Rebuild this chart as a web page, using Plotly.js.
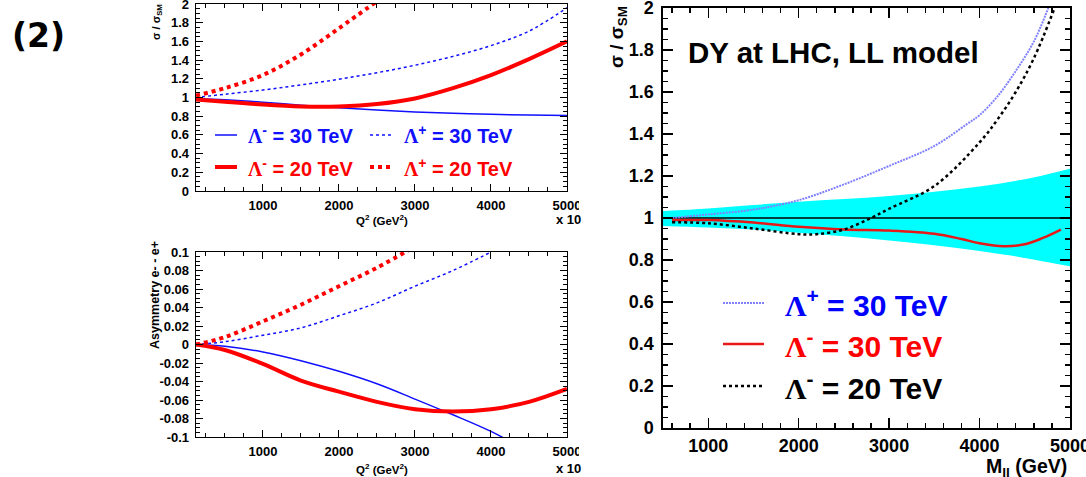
<!DOCTYPE html>
<html>
<head>
<meta charset="utf-8">
<script src="https://cdn.plot.ly/plotly-3.0.1.min.js"></script>
<style>
html,body{margin:0;padding:0;background:#fff;}
#chart{width:1086px;height:477px;}
</style>
</head>
<body>
<div id="chart"></div>
<script>
// ---------------- DATA ----------------
// Panel A (top-left): sigma / sigma_SM vs Q^2 (GeV^2)
const q2A           = [120, 500, 1000, 1500, 2000, 2500, 3000, 3500, 4000, 4500, 5000];
const ratioM30      = [0.99, 0.975, 0.95, 0.918, 0.89, 0.866, 0.846, 0.831, 0.82, 0.812, 0.807];
const ratioM20      = [0.98, 0.955, 0.925, 0.905, 0.905, 0.93, 0.99, 1.10, 1.24, 1.41, 1.60];
const ratioP30      = [1.0, 1.035, 1.08, 1.135, 1.195, 1.265, 1.345, 1.44, 1.555, 1.71, 1.96];
const q2P20         = [120, 500, 1000, 1500, 2000, 2500];
const ratioP20      = [1.02, 1.10, 1.24, 1.46, 1.74, 2.03];
const ratioTickVals = [0, 0.2, 0.4, 0.6, 0.8, 1, 1.2, 1.4, 1.6, 1.8, 2];
const ratioTickText = ["0", "0.2", "0.4", "0.6", "0.8", "1", "1.2", "1.4", "1.6", "1.8", "2"];

// Panel B (bottom-left): asymmetry e- - e+ vs Q^2
const q2AsymM30     = [120, 500, 1000, 1500, 2000, 2500, 3000, 3500, 4000, 4500];
const asymM30       = [0, -0.002, -0.008, -0.0175, -0.029, -0.0425, -0.059, -0.076, -0.094, -0.116];
const q2AsymM20     = [120, 500, 1000, 1500, 2000, 2500, 3000, 3500, 4000, 4500, 5000];
const asymM20       = [0, -0.006, -0.021, -0.039, -0.051, -0.062, -0.07, -0.0725, -0.07, -0.062, -0.048];
const q2AsymP30     = [120, 500, 1000, 1500, 2000, 2500, 3000, 3500, 4000];
const asymP30       = [0, 0.003, 0.01, 0.018, 0.031, 0.045, 0.063, 0.08, 0.1];
const q2AsymP20     = [120, 500, 1000, 1500, 2000, 2500, 3000];
const asymP20       = [0, 0.008, 0.025, 0.043, 0.063, 0.083, 0.106];
const asymTickVals  = [-0.1, -0.08, -0.06, -0.04, -0.02, 0, 0.02, 0.04, 0.06, 0.08, 0.1];
const asymTickText  = ["-0.1", "-0.08", "-0.06", "-0.04", "-0.02", "0", "0.02", "0.04", "0.06", "0.08", "0.1"];

// Panel C (right): DY at LHC, LL model, sigma / sigma_SM vs M_ll (GeV)
const mllBand       = [500, 1000, 1500, 2000, 2500, 3000, 3500, 4000, 4500, 5000];
const bandUpper     = [1.033, 1.045, 1.062, 1.077, 1.09, 1.105, 1.125, 1.15, 1.185, 1.235];
const bandLower     = [0.962, 0.955, 0.945, 0.93, 0.913, 0.893, 0.87, 0.843, 0.81, 0.77];
const smLineX       = [500, 5000];
const smLineY       = [1, 1];
const mllP30        = [600, 1000, 1500, 2000, 2500, 3000, 3500, 3860, 4000, 4200, 4400, 4600, 4760];
const dyP30         = [1.0, 1.017, 1.04, 1.085, 1.16, 1.248, 1.343, 1.447, 1.49, 1.58, 1.70, 1.84, 2.0];
const mllM30        = [600, 1000, 1500, 2000, 2500, 3000, 3500, 3800, 4000, 4270, 4500, 4700, 4900];
const dyM30         = [0.99, 0.99, 0.978, 0.958, 0.945, 0.94, 0.925, 0.9, 0.88, 0.866, 0.875, 0.905, 0.945];
const mllM20        = [600, 1000, 1500, 2000, 2200, 2500, 2800, 3000, 3500, 4000, 4200, 4400, 4600, 4830];
const dyM20         = [0.98, 0.975, 0.95, 0.923, 0.923, 0.945, 1.0, 1.044, 1.152, 1.36, 1.47, 1.60, 1.76, 2.0];

// ---------------- LAYOUT HELPERS ----------------
const W = 1086, H = 477;
const px = x => x / W;
const py = y => 1 - y / H;
const FONT = 'Liberation Sans, Arial, Helvetica, sans-serif';
const SERIF = 'Liberation Serif';
const BLUE = '#1010ff', RED = '#ff0000';

function axisStyle(extra, small) {
  return Object.assign({
    showline: true, linecolor: '#000', linewidth: small ? 1.3 : 1.6,
    mirror: 'allticks', ticks: 'inside', ticklen: small ? 7 : 10, tickwidth: small ? 1 : 1.4,
    tickcolor: '#000', showgrid: false, zeroline: false, automargin: false, fixedrange: true,
    ticklabeloverflow: 'allow',
    tickfont: {family: FONT, size: small ? 13 : 18, color: '#000', weight: 'bold'}
  }, extra);
}

const traces = [
  // Panel A
  {x: q2A, y: ratioM30, xaxis: 'x', yaxis: 'y', mode: 'lines', line: {color: BLUE, width: 1.5, shape: 'spline'}},
  {x: q2A, y: ratioP30, xaxis: 'x', yaxis: 'y', mode: 'lines', line: {color: BLUE, width: 1.5, dash: 'dot', shape: 'spline'}},
  {x: q2A, y: ratioM20, xaxis: 'x', yaxis: 'y', mode: 'lines', line: {color: RED, width: 4, shape: 'spline'}},
  {x: q2P20, y: ratioP20, xaxis: 'x', yaxis: 'y', mode: 'lines', line: {color: RED, width: 4, dash: 'dot', shape: 'spline'}},
  // Panel B
  {x: q2AsymM30, y: asymM30, xaxis: 'x2', yaxis: 'y2', mode: 'lines', line: {color: BLUE, width: 1.5, shape: 'spline'}},
  {x: q2AsymP30, y: asymP30, xaxis: 'x2', yaxis: 'y2', mode: 'lines', line: {color: BLUE, width: 1.5, dash: 'dot', shape: 'spline'}},
  {x: q2AsymM20, y: asymM20, xaxis: 'x2', yaxis: 'y2', mode: 'lines', line: {color: RED, width: 4, shape: 'spline'}},
  {x: q2AsymP20, y: asymP20, xaxis: 'x2', yaxis: 'y2', mode: 'lines', line: {color: RED, width: 4, dash: 'dot', shape: 'spline'}},
  // Panel C
  {x: mllBand, y: bandLower, xaxis: 'x3', yaxis: 'y3', mode: 'lines', line: {width: 0, color: '#00ffff', shape: 'spline'}},
  {x: mllBand, y: bandUpper, xaxis: 'x3', yaxis: 'y3', mode: 'lines', fill: 'tonexty', fillcolor: '#00ffff', line: {width: 0, color: '#00ffff', shape: 'spline'}},
  {x: smLineX, y: smLineY, xaxis: 'x3', yaxis: 'y3', mode: 'lines', line: {color: '#000', width: 1.3}},
  {x: mllP30, y: dyP30, xaxis: 'x3', yaxis: 'y3', mode: 'lines', line: {color: '#8080ff', width: 2, dash: '2px,1px', shape: 'spline'}},
  {x: mllM30, y: dyM30, xaxis: 'x3', yaxis: 'y3', mode: 'lines', line: {color: '#e81818', width: 2.5, shape: 'spline'}},
  {x: mllM20, y: dyM20, xaxis: 'x3', yaxis: 'y3', mode: 'lines', line: {color: '#000', width: 2.5, dash: '3px,3px', shape: 'spline'}}
];

const lam = s => `<span style="font-family:${SERIF}">Λ</span><sup>${s}</sup>`;

function ann(text, x, y, opts) {
  return Object.assign({
    text: text, x: px(x), y: py(y), xref: 'paper', yref: 'paper',
    showarrow: false, xanchor: 'left', yanchor: 'middle',
    font: {family: FONT, size: 12, color: '#000', weight: 'bold'}
  }, opts || {});
}
function seg(x0, x1, y, color, width, dash) {
  return {type: 'line', xref: 'paper', yref: 'paper', x0: px(x0), x1: px(x1), y0: py(y), y1: py(y),
          line: {color: color, width: width, dash: dash || 'solid'}};
}

const annotations = [
  ann('(2)', 10, 36, {font: {family: 'DejaVu Sans', size: 33, color: '#000', weight: 'bold'}}),
  // Panel A titles
  ann('σ / σ<sub>SM</sub>', 157, 2, {textangle: -90, xanchor: 'center', yanchor: 'top', font: {family: FONT, size: 11, color: '#000', weight: 'bold'}}),
  ann('Q<sup>2</sup> (GeV<sup>2</sup>)', 382, 220, {xanchor: 'center', font: {family: FONT, size: 11.5, color: '#000', weight: 'bold'}}),
  ann('x 10', 554, 219, {font: {family: FONT, size: 13, color: '#000', weight: 'bold'}}),
  // Panel A legend
  ann(lam('-') + ' = 30 TeV', 246, 135, {font: {family: FONT, size: 20, color: BLUE, weight: 'bold'}}),
  ann(lam('+') + ' = 30 TeV', 402, 135, {font: {family: FONT, size: 20, color: BLUE, weight: 'bold'}}),
  ann(lam('-') + ' = 20 TeV', 246, 167, {font: {family: FONT, size: 20, color: RED, weight: 'bold'}}),
  ann(lam('+') + ' = 20 TeV', 402, 167, {font: {family: FONT, size: 20, color: RED, weight: 'bold'}}),
  // Panel B titles
  ann('Asymmetry e- - e+', 155, 239, {textangle: -90, xanchor: 'center', yanchor: 'top', font: {family: FONT, size: 12.5, color: '#000', weight: 'bold'}}),
  ann('Q<sup>2</sup> (GeV<sup>2</sup>)', 382, 469, {xanchor: 'center', font: {family: FONT, size: 11.5, color: '#000', weight: 'bold'}}),
  ann('x 10', 554, 468, {font: {family: FONT, size: 13, color: '#000', weight: 'bold'}}),
  // Panel C titles
  ann('σ / σ<sub>SM</sub>', 618, 4, {textangle: -90, xanchor: 'center', yanchor: 'top', font: {family: FONT, size: 19, color: '#000', weight: 'bold'}}),
  ann('M<sub>ll</sub> (GeV)', 1069, 467, {xanchor: 'right', font: {family: FONT, size: 19.5, color: '#000', weight: 'bold'}}),
  ann('DY at LHC, LL model', 686, 52, {font: {family: FONT, size: 29.5, color: '#000', weight: 'bold'}}),
  // Panel C legend
  ann(lam('+') + ' = 30 TeV', 783, 303, {font: {family: FONT, size: 30, color: '#0000ff', weight: 'bold'}}),
  ann(lam('-') + ' = 30 TeV', 783, 344, {font: {family: FONT, size: 30, color: '#ff0000', weight: 'bold'}}),
  ann(lam('-') + ' = 20 TeV', 783, 386, {font: {family: FONT, size: 30, color: '#000', weight: 'bold'}})
];

const shapes = [
  // panel A legend samples
  seg(215, 237, 135, BLUE, 1.5),
  seg(370, 393, 135, BLUE, 1.5, 'dot'),
  seg(215, 237, 167, RED, 4),
  seg(370, 393, 167, RED, 4, 'dot'),
  // panel C legend samples
  seg(723, 764, 303, '#8080ff', 2, '2px,1px'),
  seg(723, 764, 344, '#e81818', 2.5),
  seg(723, 764, 386, '#000', 2.5, '3px,3px'),
  // crop edge of the left figure
  {type: 'rect', xref: 'paper', yref: 'paper', x0: px(579), x1: px(602), y0: 0, y1: 1,
   fillcolor: '#fff', line: {width: 0}, layer: 'above'}
];

const layout = {
  width: W, height: H, margin: {l: 0, r: 0, t: 0, b: 0},
  paper_bgcolor: '#fff', plot_bgcolor: '#fff', showlegend: false,
  font: {family: FONT, color: '#000'},
  xaxis: axisStyle({domain: [px(196), px(567)], range: [120, 5000], anchor: 'y', tick0: 0, dtick: 1000,
    minor: {ticks: 'inside', ticklen: 4, dtick: 250, tickcolor: '#000', showgrid: false}, ticklabelstandoff: 2}, true),
  yaxis: axisStyle({domain: [py(191), py(4)], range: [0, 2], anchor: 'x', tickmode: 'array',
    tickvals: ratioTickVals, ticktext: ratioTickText,
    minor: {ticks: 'inside', ticklen: 4, dtick: 0.05, tickcolor: '#000', showgrid: false}, ticklabelstandoff: 3}, true),
  xaxis2: axisStyle({domain: [px(196), px(567)], range: [120, 5000], anchor: 'y2', tick0: 0, dtick: 1000,
    minor: {ticks: 'inside', ticklen: 4, dtick: 250, tickcolor: '#000', showgrid: false}, ticklabelstandoff: 2}, true),
  yaxis2: axisStyle({domain: [py(437), py(252)], range: [-0.1, 0.1], anchor: 'x2', tickmode: 'array',
    tickvals: asymTickVals, ticktext: asymTickText,
    minor: {ticks: 'inside', ticklen: 4, dtick: 0.005, tickcolor: '#000', showgrid: false}, ticklabelstandoff: 3}, true),
  xaxis3: axisStyle({domain: [px(663), px(1070)], range: [500, 5000], anchor: 'y3', tick0: 0, dtick: 1000,
    minor: {ticks: 'inside', ticklen: 5, dtick: 200, tickcolor: '#000', showgrid: false}, ticklabelstandoff: 1}, false),
  yaxis3: axisStyle({domain: [py(428), py(8)], range: [0, 2], anchor: 'x3', tickmode: 'array',
    tickvals: ratioTickVals, ticktext: ratioTickText,
    minor: {ticks: 'inside', ticklen: 5, dtick: 0.05, tickcolor: '#000', showgrid: false}, ticklabelstandoff: 4}, false),
  annotations: annotations,
  shapes: shapes
};

Plotly.newPlot('chart', traces, layout, {displayModeBar: false, staticPlot: true});
</script>
</body>
</html>
